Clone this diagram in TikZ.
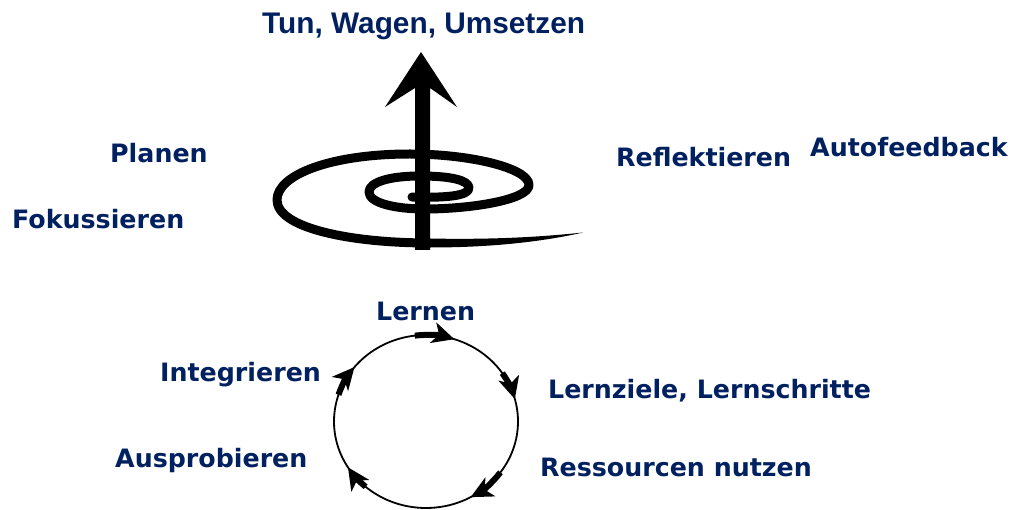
\documentclass[tikz,border=0pt]{standalone}
\usepackage{fontspec}
\setmainfont{DejaVu Sans}
\newfontfamily\arialfont{Liberation Sans}
\usetikzlibrary{arrows.meta,calc}
\definecolor{navy}{RGB}{0,32,96}
\begin{document}
\begin{tikzpicture}[x=1pt,y=-1pt,
 lbl/.style={anchor=base west, inner sep=0pt, text=navy, font=\fontsize{25.3}{30}\selectfont\bfseries},
 ttl/.style={anchor=base west, inner sep=0pt, text=navy, font=\arialfont\fontsize{29.8}{34}\selectfont\bfseries},
 spiral/.style={line width=9pt, line cap=round, line join=round},
 cyc/.style={line width=6pt, -{Stealth[length=22pt,width=21pt,inset=6pt]}}]
\useasboundingbox (0,0) rectangle (1013,510);
% labels
\node[ttl] (tun) at (262,34) {Tun, Wagen, Umsetzen};
\node[lbl] (planen) at (110,163) {Planen};
\node[lbl] (fokus) at (12,229) {Fokussieren};
\node[lbl] (refl) at (616,167) {Reflektieren};
\node[lbl] (auto) at (810,157) {Autofeedback};
\node[lbl] (lernen) at (376,321) {Lernen};
\node[lbl] (ziele) at (548,399) {Lernziele, Lernschritte};
\node[lbl] (ress) at (540,477) {Ressourcen nutzen};
\node[lbl] (integ) at (160,382) {Integrieren};
\node[lbl] (auspr) at (115,468) {Ausprobieren};
% spiral
\draw[spiral] (412,197) .. controls (445,198) and (469,196) .. (469,188)
  .. controls (469,180) and (450,176) .. (420,176)
  .. controls (390,176) and (369,182) .. (369,192)
  .. controls (369,203) and (395,209) .. (425,209)
  .. controls (470,209) and (529,200) .. (529,185)
  .. controls (529,168) and (470,154) .. (410,154)
  .. controls (330,154) and (277,175) .. (277,200)
  .. controls (277,228) and (350,243) .. (430,243);
\fill (430,238.5) .. controls (500,240) and (550,236) .. (583,232.5)
  .. controls (550,240) and (500,247.5) .. (430,247.5) -- cycle;
% big arrow
\fill (421,52) -- (457,107) -- (430,88) -- (430,250) -- (415,250) -- (415,88) -- (385,107) -- cycle;
% cycle
\coordinate (c) at (426,421.5);
\draw[line width=1.8pt] (c) ellipse[x radius=92, y radius=86.5];
\foreach \a/\b in {-97/-72, -34/-15, 36/61, 131/148, 198/219}{
  \draw[cyc] ($(c)+(\a:92 and 86.5)$) arc[start angle=\a, end angle=\b, x radius=92, y radius=86.5];
}
\end{tikzpicture}
\end{document}
